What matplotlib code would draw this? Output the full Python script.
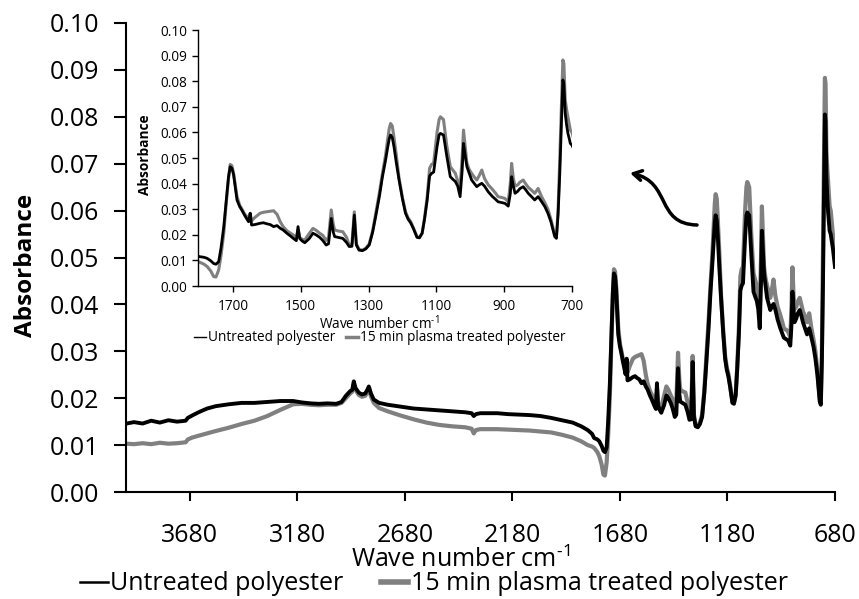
import matplotlib
matplotlib.use("Agg")
import matplotlib.pyplot as plt
from matplotlib.path import Path
from matplotlib.patches import FancyArrowPatch, ArrowStyle
from matplotlib.lines import Line2D

plt.rcParams['font.family'] = ['Open Sans', 'DejaVu Sans']
plt.rcParams['mathtext.fontset'] = 'custom'
plt.rcParams['mathtext.rm'] = 'Open Sans'

# FTIR-ATR spectra (wave number in cm-1, absorbance)
wavenumber = [
    3975, 3940, 3900, 3860, 3820, 3780, 3740, 3700, 3690, 3670, 3640, 3600,
    3560, 3500, 3440, 3380, 3320, 3260, 3200, 3160, 3120, 3080, 3040, 3000,
    2975, 2955, 2935, 2925, 2918, 2910, 2895, 2880, 2865, 2855, 2848, 2838,
    2825, 2800, 2760, 2700, 2640, 2580, 2520, 2460, 2400, 2370, 2360, 2350,
    2330, 2300, 2250, 2200, 2150, 2100, 2050, 2000, 1950, 1900, 1860, 1830,
    1810, 1800, 1785, 1776, 1765, 1757, 1750, 1742, 1735, 1727, 1720, 1713,
    1708, 1703, 1698, 1688, 1680, 1674, 1665, 1654, 1649, 1645, 1635, 1620,
    1610, 1600, 1590, 1580, 1570, 1560, 1552, 1540, 1530, 1522, 1513, 1508,
    1503, 1495, 1488, 1475, 1464, 1455, 1444, 1435, 1425, 1418, 1410, 1404,
    1400, 1390, 1376, 1365, 1357, 1349, 1342, 1336, 1328, 1318, 1308, 1298,
    1288, 1279, 1268, 1259, 1250, 1244, 1239, 1235, 1230, 1225, 1218, 1210,
    1200, 1191, 1183, 1176, 1168, 1157, 1150, 1142, 1135, 1127, 1120, 1114,
    1108, 1098, 1092, 1088, 1079, 1069, 1059, 1050, 1044, 1037, 1030, 1024,
    1020, 1014, 1010, 1003, 996, 988, 981, 974, 966, 958, 947, 935,
    925, 918, 905, 898, 888, 882, 878, 873, 868, 860, 854, 844,
    836, 829, 820, 810, 800, 795, 790, 780, 771, 762, 751, 746,
    741, 736, 731, 727, 724, 720, 716, 712, 708, 705, 700, 690,
    680,
]

untreated = [
    .0146, .0149, .0146, .0152, .0148, .0153, .0150, .0152, .0158, .0163, .0170, .0178,
    .0183, .0187, .0190, .0190, .0192, .0194, .0194, .0191, .0189, .0188, .0189, .0188,
    .0192, .0205, .0215, .0218, .0236, .0222, .0212, .0208, .0210, .0218, .0225, .0210,
    .0197, .0190, .0186, .0182, .0178, .0176, .0174, .0172, .0170, .0168, .0162, .0166,
    .0168, .0168, .0168, .0166, .0165, .0164, .0162, .0158, .0153, .0148, .0140, .0132,
    .0124, .0115, .0112, .0108, .0098, .0088, .0085, .0095, .0150, .0232, .0330, .0427,
    .0466, .0460, .0434, .0336, .0310, .0297, .0275, .0251, .0284, .0238, .0240, .0245,
    .0247, .0243, .0240, .0232, .0236, .0225, .0219, .0205, .0195, .0186, .0177, .0232,
    .0185, .0175, .0169, .0185, .0206, .0200, .0190, .0178, .0160, .0165, .0264, .0210,
    .0193, .0190, .0186, .0170, .0154, .0155, .0277, .0160, .0140, .0138, .0145, .0160,
    .0210, .0271, .0350, .0427, .0490, .0538, .0575, .0590, .0580, .0544, .0480, .0414,
    .0340, .0284, .0260, .0247, .0225, .0190, .0188, .0206, .0260, .0336, .0430, .0440,
    .0445, .0544, .0590, .0596, .0590, .0505, .0427, .0415, .0408, .0390, .0349, .0450,
    .0557, .0500, .0466, .0440, .0414, .0400, .0388, .0395, .0401, .0390, .0368, .0350,
    .0338, .0329, .0325, .0323, .0312, .0360, .0427, .0390, .0362, .0370, .0380, .0388,
    .0375, .0362, .0350, .0336, .0349, .0340, .0330, .0310, .0284, .0250, .0193, .0186,
    .0280, .0440, .0650, .0805, .0790, .0674, .0630, .0596, .0575, .0557, .0550, .0520,
    .0480,
]

plasma_15min = [
    .0103, .0102, .0104, .0102, .0105, .0103, .0104, .0106, .0112, .0116, .0120, .0125,
    .0130, .0137, .0145, .0152, .0162, .0175, .0187, .0188, .0186, .0185, .0186, .0186,
    .0190, .0200, .0210, .0214, .0230, .0218, .0207, .0203, .0205, .0212, .0220, .0204,
    .0190, .0179, .0172, .0163, .0155, .0148, .0143, .0140, .0138, .0135, .0125, .0132,
    .0134, .0134, .0134, .0133, .0132, .0131, .0129, .0127, .0122, .0116, .0108, .0100,
    .0097, .0094, .0085, .0076, .0058, .0037, .0035, .0063, .0120, .0206, .0320, .0420,
    .0475, .0470, .0440, .0350, .0315, .0302, .0280, .0265, .0284, .0255, .0268, .0284,
    .0288, .0290, .0292, .0294, .0280, .0250, .0232, .0215, .0206, .0199, .0188, .0220,
    .0190, .0182, .0180, .0205, .0225, .0218, .0206, .0198, .0178, .0190, .0297, .0240,
    .0219, .0215, .0212, .0190, .0160, .0165, .0290, .0165, .0143, .0140, .0148, .0165,
    .0215, .0283, .0365, .0440, .0510, .0570, .0615, .0635, .0625, .0580, .0510, .0420,
    .0345, .0290, .0265, .0252, .0228, .0192, .0190, .0206, .0265, .0350, .0460, .0475,
    .0480, .0600, .0650, .0661, .0650, .0545, .0466, .0450, .0440, .0410, .0388, .0500,
    .0609, .0530, .0480, .0455, .0440, .0425, .0414, .0430, .0453, .0420, .0395, .0378,
    .0362, .0349, .0345, .0342, .0330, .0400, .0479, .0420, .0390, .0395, .0405, .0414,
    .0398, .0385, .0375, .0362, .0381, .0365, .0350, .0325, .0300, .0260, .0200, .0190,
    .0300, .0500, .0720, .0883, .0870, .0727, .0690, .0661, .0630, .0609, .0600, .0550,
    .0495,
]

labels = ["Untreated polyester", "15 min plasma treated polyester"]
main_xticks = [3680, 3180, 2680, 2180, 1680, 1180, 680]
inset_xticks = [1700, 1500, 1300, 1100, 900, 700]
yticks = [0.00, 0.01, 0.02, 0.03, 0.04, 0.05, 0.06, 0.07, 0.08, 0.09, 0.10]
xlabel_text = "Wave number cm$^{\\mathregular{\u2010}1}$"

W, H = 859, 599
fig = plt.figure(figsize=(W / 100, H / 100), dpi=100)

def frac(x0, y0, x1, y1):
    return [x0 / W, 1 - y1 / H, (x1 - x0) / W, (y1 - y0) / H]

GRAY = '#808080'
MAIN_FS = 18

def style_axes(a, lw, tick_len_y, tick_len_x, size, ypad, xpad):
    for s in ('top', 'right'):
        a.spines[s].set_visible(False)
    for s in ('left', 'bottom'):
        a.spines[s].set_linewidth(lw)
        a.spines[s].set_color('black')
    a.tick_params(axis='y', direction='out', length=tick_len_y, width=lw, labelsize=size, pad=ypad)
    a.tick_params(axis='x', direction='out', length=tick_len_x, width=lw, labelsize=size, pad=xpad)
    a.set_yticks(yticks)
    a.set_yticklabels([f"{v:.2f}" for v in yticks])
    a.set_ylim(0, 0.10)

# main panel
ax = fig.add_axes(frac(126.5, 23, 835, 492))
ax.plot(wavenumber, plasma_15min, color=GRAY, lw=3.0, solid_joinstyle='round')
ax.plot(wavenumber, untreated, color='black', lw=2.8, solid_joinstyle='round')
ax.set_xlim(3975, 680)
ax.set_xticks(main_xticks)
style_axes(ax, 1.5, 8.5, 6.5, MAIN_FS, 11, 16)
ax.set_ylabel("Absorbance", fontsize=17.5, fontweight='bold', va='center')
ax.yaxis.set_label_coords(-0.142, 0.484)
ax.set_xlabel(xlabel_text, fontsize=MAIN_FS, va='center')
ax.xaxis.set_label_coords(0.472, -0.145)

handles = [Line2D([], [], color='black', lw=1.8), Line2D([], [], color=GRAY, lw=4)]
fig.legend(handles, labels, loc='center left', bbox_to_anchor=(80 / W, 1 - 584 / H),
           ncol=2, frameon=False, fontsize=MAIN_FS, handlelength=1.1, handletextpad=0.1,
           columnspacing=1.5, borderaxespad=0, borderpad=0)

# zoomed panel, 1800-700 cm-1
ins = fig.add_axes(frac(198, 30, 572, 286))
ins.plot(wavenumber, plasma_15min, color=GRAY, lw=2.2, solid_joinstyle='round')
ins.plot(wavenumber, untreated, color='black', lw=2.0, solid_joinstyle='round')
ins.set_xlim(1803, 700)
ins.set_xticks(inset_xticks)
style_axes(ins, 1.0, 4.5, 4, 9.8, 3, 5)
ins.set_ylabel("Absorbance", fontsize=9.8, fontweight='bold', va='center')
ins.yaxis.set_label_coords(-0.142, 0.512)
ins.set_xlabel(xlabel_text, fontsize=9.8, va='center')
ins.xaxis.set_label_coords(0.484, -0.148)
ins_handles = [Line2D([], [], color='black', lw=1.0), Line2D([], [], color=GRAY, lw=2.5)]
ins.legend(ins_handles, labels, loc='center', bbox_to_anchor=(0.486, -0.203),
           ncol=2, frameon=False, fontsize=9.8, handlelength=0.9, handletextpad=0.1,
           columnspacing=0.8, borderaxespad=0, borderpad=0)

# curved arrow pointing from the fingerprint region to the zoomed panel
pts = [(697, 225), (655, 224), (672, 182), (630, 173)]
verts = [(x / W, 1 - y / H) for x, y in pts]
arrow_path = Path(verts, [Path.MOVETO, Path.CURVE4, Path.CURVE4, Path.CURVE4])
arrow = FancyArrowPatch(path=arrow_path, transform=fig.transFigure,
                        arrowstyle=ArrowStyle('->', head_length=6, head_width=3.5),
                        mutation_scale=1, lw=2.5, color='black', capstyle='round')
fig.add_artist(arrow)

fig.savefig("out.png", dpi=100)
